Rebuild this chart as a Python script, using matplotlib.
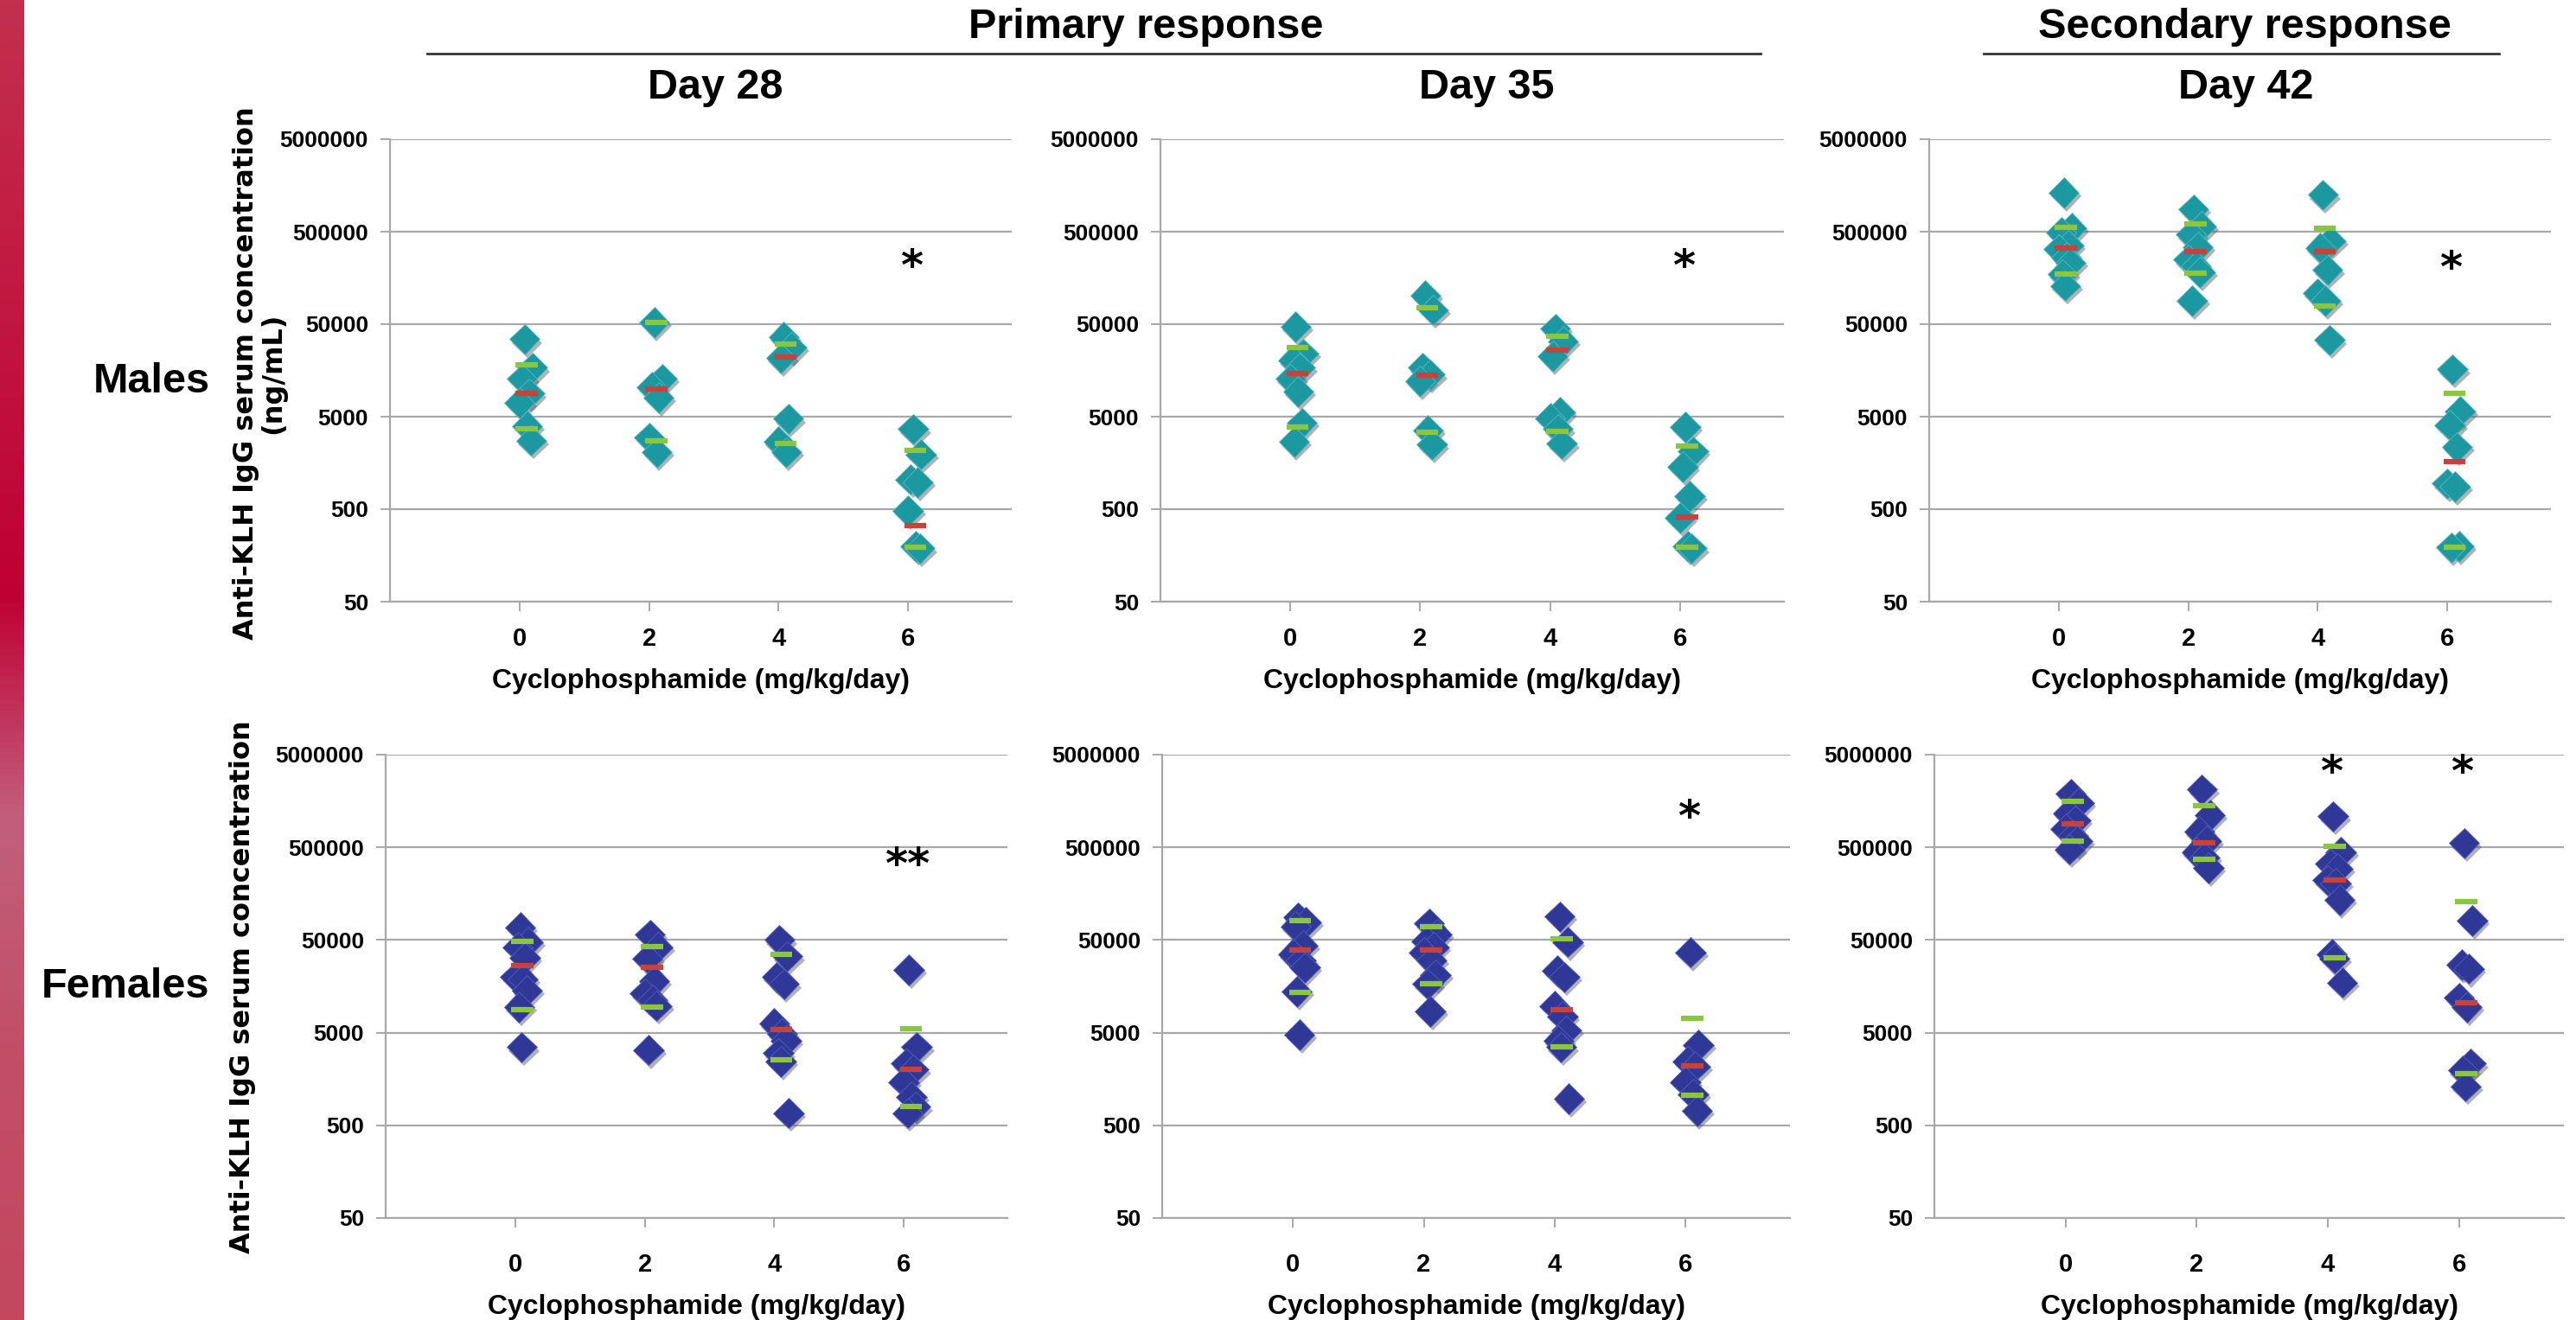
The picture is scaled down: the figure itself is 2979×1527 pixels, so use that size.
import numpy as np
import matplotlib
matplotlib.use("Agg")
import matplotlib.pyplot as plt
import matplotlib.patheffects as pe
from matplotlib.colors import LinearSegmentedColormap

# ---- data ----
doses = [0, 2, 4, 6]
yticks = [50, 500, 5000, 50000, 500000, 5000000]

# Males, day 28
m28_pts = [[34400, 16900, 12800, 8870, 7050, 3940, 2760],
           [52100, 12800, 10400, 8000, 2970, 2060],
           [36200, 27900, 21500, 4740, 2670, 2060],
           [3660, 1960, 1050, 975, 480, 198, 188]]
m28_green = [[18000, 3660], [52100, 2760], [30300, 2540], [2170, 193]]
m28_red = [8870, 10050, 22200, 333]
m28_sig = {6: ("*", 202000)}

# Males, day 35
m35_pts = [[47000, 23900, 20400, 16900, 12800, 9330, 4280, 2670],
           [102600, 71300, 16900, 14200, 12100, 3550, 2490],
           [44600, 32600, 22600, 5550, 4840, 3660, 2540],
           [3850, 2100, 1430, 690, 402, 198, 188]]
m35_green = [[27900, 3850], [75000, 3400], [37000, 3470], [2410, 193]]
m35_red = [14600, 13900, 26500, 410]
m35_sig = {6: ("*", 202000)}

# Males, day 42
m42_pts = [[1318000, 543000, 490000, 358000, 323000, 262000, 229000, 173000, 130000],
           [869000, 573000, 465000, 340000, 249000, 213000, 182000, 89500],
           [1250000, 398000, 334000, 192000, 108000, 89500, 33700],
           [16200, 5730, 4060, 2340, 945, 878, 198, 193]]
m42_green = [[561000, 173000], [603000, 177000], [543000, 79000], [8870, 193]]
m42_red = [330000, 306000, 306000, 1640]
m42_sig = {6: ("*", 192000)}

# Females, day 28
f28_pts = [[68000, 47500, 42000, 32200, 19900, 18900, 14200, 9440, 3490],
           [57100, 42000, 31600, 18000, 13200, 11300, 9720, 3250],
           [50000, 33200, 19900, 16700, 6260, 4900, 4080, 3000, 2440, 679],
           [23700, 3490, 2320, 1990, 1470, 1020, 792, 679]]
f28_green = [[48500, 8770], [42900, 9440], [34900, 2570], [5530, 792]]
f28_red = [26200, 25200, 5430, 1990]
f28_sig = {6: ("**", 315000)}

# Females, day 35
f35_pts = [[87700, 77600, 70100, 43800, 34900, 30000, 25200, 13900, 4750],
           [75300, 57200, 48500, 42000, 36800, 30000, 20900, 16700, 8510],
           [89500, 47500, 23200, 19900, 9720, 7530, 5260, 4080, 3490, 972],
           [36800, 3680, 2440, 2160, 1470, 1080, 716]]
f35_green = [[80900, 13500], [69300, 16700], [51500, 3490], [7160, 1050]]
f35_red = [38700, 38700, 8770, 2200]
f35_sig = {6: ("*", 1020000)}

# Females, day 42
f42_pts = [[1890000, 1510000, 1160000, 972000, 792000, 666000, 583000, 475000],
           [2100000, 1110000, 738000, 583000, 442000, 387000, 300000],
           [1080000, 442000, 332000, 294000, 220000, 203000, 135000, 34900, 31600, 17400],
           [554000, 80900, 27000, 24400, 11900, 9420, 2320, 1950, 1320]]
f42_green = [[1570000, 583000], [1420000, 368000], [510000, 32200], [129000, 1800]]
f42_red = [905000, 554000, 220000, 10500]
f42_sig = {4: ("*", 3150000), 6: ("*", 3150000)}

W, H = 2979, 1527
fig = plt.figure(figsize=(W / 100, H / 100), dpi=100)
fig.patch.set_facecolor("white")

narrow = ["Liberation Sans Narrow", "Liberation Sans", "DejaVu Sans"]
TEAL = "#1c98a0"
BLUE = "#2f3896"
GREEN = "#8cc63e"
RED = "#c8413a"
GRID = "#a8a8a8"
jitter = [0.08, 0.20, 0.04, 0.15, 0.0, 0.12, 0.18, 0.06, 0.10, 0.22]


def px_text(x, y, s, **kw):
    fig.text(x / W, 1 - y / H, s, ha="center", va="center", **kw)


def panel(box, pts, green, red, sig, color, xpad):
    x0, y0, x1, y1 = box
    ax = fig.add_axes([x0 / W, 1 - y1 / H, (x1 - x0) / W, (y1 - y0) / H])
    ax.set_yscale("log")
    ax.set_ylim(50, 5000000)
    ax.set_xlim(-2, 7.6)
    for d, vals in zip(doses, pts):
        xs = [d + jitter[i % len(jitter)] for i in range(len(vals))]
        ax.plot(xs, vals, "D", ms=18, color=color, mec="#5ab8c8" if color == TEAL else "#5060c0",
                mew=0.6, zorder=3,
                path_effects=[pe.SimplePatchShadow(offset=(2, -3), shadow_rgbFace="#555555", alpha=0.45),
                              pe.Normal()])
    for d, (hi, lo), med in zip(doses, green, red):
        ax.hlines([hi, lo], d - 0.06, d + 0.28, colors=GREEN, lw=4.5, zorder=4)
        ax.hlines(med, d - 0.06, d + 0.28, colors=RED, lw=4.5, zorder=4)
    for d, (s, v) in sig.items():
        ax.text(d + 0.05, v, s, ha="center", va="center", fontsize=36,
                fontweight="bold", family="DejaVu Sans")
    ax.set_yticks(yticks)
    ax.set_yticklabels([str(t) for t in yticks])
    ax.minorticks_off()
    ax.set_xticks(doses)
    ax.set_xticklabels([str(d) for d in doses])
    ax.grid(axis="y", color=GRID, lw=1.6)
    ax.set_axisbelow(True)
    for s in ["top", "right"]:
        ax.spines[s].set_visible(False)
    for s in ["left", "bottom"]:
        ax.spines[s].set_color(GRID)
        ax.spines[s].set_linewidth(1.6)
    ax.tick_params(axis="y", length=8, width=1.4, color=GRID, pad=10)
    ax.tick_params(axis="x", length=8, width=1.4, color=GRID, pad=xpad)
    for lab in ax.get_yticklabels():
        lab.set_fontsize(19)
        lab.set_fontweight("bold")
        lab.set_family(narrow)
    for lab in ax.get_xticklabels():
        lab.set_fontsize(21)
        lab.set_fontweight("bold")
        lab.set_family(narrow)
    ax.set_xlabel("Cyclophosphamide (mg/kg/day)", fontsize=23, fontweight="bold",
                  family=narrow, labelpad=14)
    return ax


panel((451, 161, 1170, 696), m28_pts, m28_green, m28_red, m28_sig, TEAL, 13)
panel((1342, 161, 2063, 696), m35_pts, m35_green, m35_red, m35_sig, TEAL, 13)
panel((2231, 161, 2950, 696), m42_pts, m42_green, m42_red, m42_sig, TEAL, 13)
panel((446, 873, 1165, 1409), f28_pts, f28_green, f28_red, f28_sig, BLUE, 21)
panel((1344, 873, 2070, 1409), f35_pts, f35_green, f35_red, f35_sig, BLUE, 21)
panel((2237, 873, 2965, 1409), f42_pts, f42_green, f42_red, f42_sig, BLUE, 21)

# headers
hdr = dict(fontsize=35, fontweight="bold", family=narrow)
px_text(1325, 32, "Primary response", **hdr)
px_text(2596, 32, "Secondary response", **hdr)
fig.add_artist(plt.Line2D([494 / W, 2036 / W], [1 - 62 / H] * 2, color="#333333", lw=2))
fig.add_artist(plt.Line2D([2294 / W, 2890 / W], [1 - 62 / H] * 2, color="#333333", lw=2))
px_text(827, 102, "Day 28", **hdr)
px_text(1719, 102, "Day 35", **hdr)
px_text(2597, 102, "Day 42", **hdr)

px_text(175, 441, "Males", fontsize=35, fontweight="bold", family=narrow)
px_text(145, 1142, "Females", fontsize=35, fontweight="bold", family=narrow)

ylab = dict(fontsize=23, fontweight="bold", rotation=90, family="DejaVu Sans", linespacing=1.0)
px_text(300, 432, "Anti-KLH IgG serum concentration\n(ng/mL)", **ylab)
px_text(281, 1142, "Anti-KLH IgG serum concentration", **ylab)

# decorative side bar
bar = fig.add_axes([0, 0, 27 / W, 1])
cmap = LinearSegmentedColormap.from_list(
    "side", [(0.0, "#c3304e"), (0.45, "#bf0033"), (0.62, "#c2607c"), (0.8, "#c14e66"), (1.0, "#c4475e")])
bar.imshow(np.linspace(0, 1, 256)[:, None], aspect="auto", cmap=cmap, extent=[0, 1, 1, 0])
bar.set_axis_off()

fig.savefig("out.png", dpi=100, facecolor="white")
